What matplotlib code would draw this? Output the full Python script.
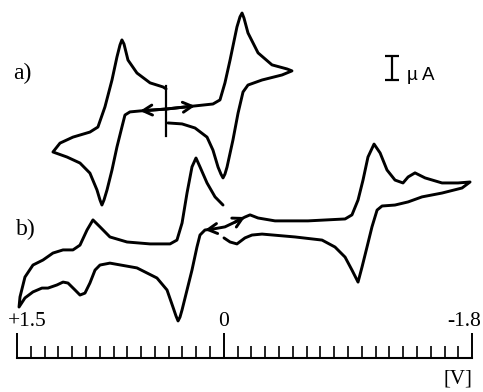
import matplotlib
matplotlib.use("Agg")
import matplotlib.pyplot as plt

# potentials in V, currents in uA (cathodic current up)

# a) scan started at 0.42 V towards positive potentials
a_pos_v = [0.419, 0.608, 0.681, 0.717, 0.739, 0.775, 0.811, 0.847, 0.869, 0.884, 0.898,
           0.920, 0.971, 1.043, 1.137, 1.239,
           1.188, 1.094, 0.971, 0.913, 0.862, 0.811, 0.775, 0.753, 0.739, 0.724, 0.695,
           0.630, 0.535, 0.441, 0.419]
a_pos_i = [0.04, -0.04, -0.08, -0.21, -0.71, -1.54, -2.50, -3.33, -3.75, -3.96, -3.75,
           -3.33, -2.63, -2.21, -1.96, -1.75,
           -1.38, -1.13, -0.92, -0.71, 0.13, 1.25, 2.21, 2.71, 2.92, 2.75, 2.08,
           1.54, 1.13, 0.96, 0.88]

# a) scan started at 0.42 V towards negative potentials
a_neg_v = [0.419, 0.209, 0.079, 0.028, -0.008, -0.045, -0.095, -0.117, -0.132, -0.146,
           -0.175, -0.248, -0.349, -0.458, -0.494,
           -0.422, -0.277, -0.175, -0.139, -0.103, -0.066, -0.023, -0.008, 0.006, 0.021,
           0.042, 0.079, 0.122, 0.209, 0.303, 0.405]
a_neg_i = [0.04, 0.17, 0.25, 0.42, 1.13, 2.08, 3.46, 3.88, 4.04, 3.83,
           3.21, 2.38, 1.88, 1.71, 1.63,
           1.46, 1.25, 1.04, 0.75, -0.13, -1.25, -2.38, -2.67, -2.83, -2.67,
           -2.38, -1.67, -1.13, -0.75, -0.58, -0.54]

# start potential marker of a)
a_start_v = 0.423
a_start_i = [1.0, -1.08]

# b) scan towards positive potentials
b_pos_v = [0.079, 0.137, 0.173, 0.195, 0.231, 0.267, 0.303, 0.318, 0.332, 0.347, 0.369,
           0.412, 0.485, 0.630, 0.826, 0.898, 0.934, 0.971, 1.007, 1.043, 1.079, 1.130,
           1.166, 1.210, 1.275, 1.319, 1.384, 1.442, 1.485,
           1.478, 1.442, 1.384, 1.311, 1.239, 1.166, 1.094, 1.043, 0.992, 0.949, 0.898,
           0.826, 0.702, 0.535, 0.390, 0.340, 0.303, 0.267, 0.231, 0.202, 0.173, 0.122,
           0.064, 0.006]
b_pos_i = [0.04, 0.00, -0.21, -0.71, -1.67, -2.50, -3.33, -3.63, -3.79, -3.58, -3.21,
           -2.50, -2.00, -1.58, -1.38, -1.46, -1.67, -2.21, -2.63, -2.71, -2.50, -2.21,
           -2.17, -2.29, -2.42, -2.42, -2.58, -2.83, -3.21,
           -2.79, -1.96, -1.46, -1.25, -0.96, -0.83, -0.83, -0.63, 0.00, 0.42, 0.13,
           -0.29, -0.50, -0.58, -0.58, -0.42, 0.29, 1.54, 2.63, 3.00, 2.63, 1.96,
           1.38, 1.04]

# b) scan towards negative potentials
b_neg_v = [0.079, -0.008, -0.081, -0.153, -0.190, -0.248, -0.371, -0.610, -0.879, -0.929,
           -0.973, -1.009, -1.045, -1.089, -1.133, -1.183, -1.241, -1.299, -1.336, -1.386,
           -1.459, -1.582, -1.698, -1.785,
           -1.727, -1.582, -1.437, -1.336, -1.241, -1.147, -1.111, -1.074, -1.038, -1.002,
           -0.973, -0.929, -0.879, -0.806, -0.712, -0.516, -0.277, -0.204, -0.153, -0.095,
           -0.045, -0.001]
b_neg_i = [0.04, 0.13, 0.33, 0.54, 0.63, 0.50, 0.38, 0.38, 0.46, 0.63,
           1.25, 2.08, 3.04, 3.58, 3.21, 2.50, 2.08, 1.96, 2.21, 2.38,
           2.17, 1.96, 1.96, 2.00,
           1.75, 1.54, 1.38, 1.17, 1.04, 1.00, 0.83, 0.13, -0.71, -1.54,
           -2.17, -1.67, -1.13, -0.71, -0.42, -0.29, -0.17, -0.21, -0.33, -0.58,
           -0.50, -0.33]

a_offset = 11.75
b_offset = 6.75

major_ticks = [1.5, 0.0, -1.8]
major_labels = ["+1.5", "0", "-1.8"]
minor_ticks = [round(-1.8 + 0.1 * k, 1) for k in range(34)]

serif = "Liberation Serif"
lw = 2.1

fig = plt.figure(figsize=(4.83, 3.92), dpi=100)
ax = fig.add_axes([0, 0, 1, 1])
ax.set_xlim(1.623, -1.879)
ax.set_ylim(0, 16.333)


def draw(v, i, off):
    ax.plot(v, [c + off for c in i], color="black", lw=lw,
            solid_joinstyle="round", solid_capstyle="round")


def arrow(v, i, off, k0, k1):
    ax.annotate("", xy=(v[k1], i[k1] + off), xytext=(v[k0], i[k0] + off),
                arrowprops=dict(arrowstyle="->,head_length=0.55,head_width=0.3",
                                color="black", lw=lw, shrinkA=0, shrinkB=0,
                                mutation_scale=12))


draw(a_pos_v, a_pos_i, a_offset)
draw(a_neg_v, a_neg_i, a_offset)
ax.plot([a_start_v, a_start_v], [c + a_offset for c in a_start_i], color="black", lw=1.6)
arrow(a_pos_v, a_pos_i, a_offset, 0, 1)
arrow(a_neg_v, a_neg_i, a_offset, 0, 1)

draw(b_pos_v, b_pos_i, b_offset)
draw(b_neg_v, b_neg_i, b_offset)
arrow(b_pos_v, b_pos_i, b_offset, 0, 1)
arrow(b_neg_v, b_neg_i, b_offset, 2, 3)

# potential axis drawn as a bottom scale
for s in ["top", "left", "right"]:
    ax.spines[s].set_visible(False)
ax.spines["bottom"].set_position(("data", 1.417))
ax.spines["bottom"].set_bounds(-1.8, 1.5)
ax.spines["bottom"].set_linewidth(1.5)
ax.set_xticks(major_ticks)
ax.set_xticks(minor_ticks, minor=True)
ax.tick_params(axis="x", which="major", direction="in", length=18, width=1.4,
               labelbottom=False)
ax.tick_params(axis="x", which="minor", direction="in", length=8.6, width=1.2)
ax.set_yticks([])

ax.text(1.565, 2.92, major_labels[0], ha="left", va="center", fontsize=15.5, family=serif)
ax.text(0.0, 2.92, major_labels[1], ha="center", va="center", fontsize=15.5, family=serif)
ax.text(-1.74, 2.92, major_labels[2], ha="center", va="center", fontsize=15.5, family=serif)
ax.text(-1.8, 0.36, "[V]", ha="right", va="baseline", fontsize=15, family=serif)

ax.text(1.464, 13.29, "a)", ha="center", va="center", fontsize=17, family=serif)
ax.text(1.435, 6.79, "b)", ha="center", va="center", fontsize=17, family=serif)

# 1 uA scale bar
ax.errorbar([-1.219], [13.5], yerr=[0.5], color="black", elinewidth=1.6,
            capsize=4.7, capthick=1.6)
ax.text(-1.328, 13.0, "\u00b5 A", ha="left", va="baseline", fontsize=13.5,
        family="Liberation Sans")

fig.savefig("out.png", dpi=100)
